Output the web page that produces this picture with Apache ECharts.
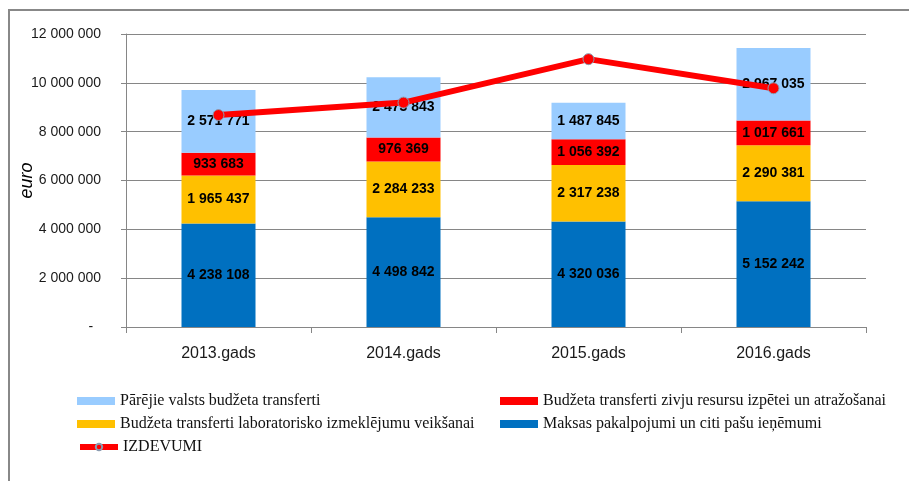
<!DOCTYPE html>
<html>
<head>
<meta charset="utf-8">
<script src="https://cdn.jsdelivr.net/npm/echarts@6/dist/echarts.min.js"></script>
<style>
html,body{margin:0;padding:0;background:#fff;}
#main{width:909px;height:481px;}
</style>
</head>
<body>
<div id="main"></div>
<script>
const categories = ['2013.gads', '2014.gads', '2015.gads', '2016.gads'];
const seriesNames = [
  'Maksas pakalpojumi un citi pašu ieņēmumi',
  'Budžeta transferti laboratorisko izmeklējumu veikšanai',
  'Budžeta transferti zivju resursu izpētei un atražošanai',
  'Pārējie valsts budžeta transferti',
  'IZDEVUMI'
];
const maksas = [4238108, 4498842, 4320036, 5152242];
const laboratorija = [1965437, 2284233, 2317238, 2290381];
const zivju = [933683, 976369, 1056392, 1017661];
const parejie = [2571771, 2473843, 1487845, 2967035];
const izdevumi = [8680000, 9190000, 10970000, 9780000];
const yTicks = [0, 2000000, 4000000, 6000000, 8000000, 10000000, 12000000];

function fmt(v) {
  return String(Math.round(v)).replace(/\B(?=(\d{3})+(?!\d))/g, ' ');
}

const colors = ['#0070C0', '#FFC000', '#FF0000', '#99CCFF'];
const barData = [maksas, laboratorija, zivju, parejie];

const chart = echarts.init(document.getElementById('main'), null, {renderer: 'canvas'});

const barSeries = barData.map((d, i) => ({
  name: seriesNames[i],
  type: 'bar',
  stack: 'total',
  barWidth: 74,
  data: d,
  itemStyle: {color: colors[i]},
  label: {
    show: true,
    position: 'inside',
    formatter: p => fmt(p.value),
    color: '#000',
    fontWeight: 'bold',
    fontSize: 14,
    fontFamily: 'Liberation Sans'
  },
  z: 2
}));

const legendCommon = {
  itemWidth: 38,
  itemHeight: 8,
  itemGap: 5,
  padding: 0,
  textStyle: {fontFamily: 'Liberation Serif', fontSize: 16, color: '#111'},
  selectedMode: false
};

const option = {
  animation: false,
  backgroundColor: '#fff',
  grid: {left: 126, right: 43, top: 34, bottom: 154},
  legend: [
    Object.assign({left: 77, top: 393, data: [{name: seriesNames[3], icon: 'rect'}]}, legendCommon),
    Object.assign({left: 500, top: 393, data: [{name: seriesNames[2], icon: 'rect'}]}, legendCommon),
    Object.assign({left: 77, top: 416, data: [{name: seriesNames[1], icon: 'rect'}]}, legendCommon),
    Object.assign({left: 500, top: 416, data: [{name: seriesNames[0], icon: 'rect'}]}, legendCommon),
    Object.assign({left: 77, top: 439, itemHeight: 12, data: [{name: seriesNames[4], lineStyle: {width: 6, color: '#FF0000'}}]}, legendCommon)
  ],
  xAxis: {
    type: 'category',
    data: categories,
    boundaryGap: true,
    axisLine: {lineStyle: {color: '#868686', width: 1}},
    axisTick: {show: true, length: 6, lineStyle: {color: '#868686'}},
    axisLabel: {
      color: '#1a1a1a',
      fontSize: 16,
      fontFamily: 'Liberation Sans',
      margin: 19
    }
  },
  yAxis: {
    type: 'value',
    min: yTicks[0],
    max: yTicks[yTicks.length - 1],
    interval: 2000000,
    name: 'euro',
    nameLocation: 'middle',
    nameRotate: 90,
    nameGap: 90,
    nameMoveOverlap: false,
    nameTextStyle: {fontStyle: 'italic', fontSize: 18, color: '#000', fontFamily: 'Liberation Sans'},
    axisLine: {show: true, lineStyle: {color: '#868686', width: 1}},
    axisTick: {show: true, length: 5, lineStyle: {color: '#868686'}},
    splitLine: {show: true, lineStyle: {color: '#868686', width: 1}},
    axisLabel: {
      color: '#1a1a1a',
      fontSize: 14,
      fontFamily: 'Liberation Sans',
      margin: 25,
      formatter: v => v === 0 ? '-  ' : fmt(v)
    }
  },
  series: barSeries.concat([{
    name: seriesNames[4],
    type: 'line',
    data: izdevumi,
    symbol: 'circle',
    symbolSize: 11,
    lineStyle: {color: '#FF0000', width: 6},
    itemStyle: {color: '#FF0000', borderColor: '#8a9bb0', borderWidth: 1},
    z: 5
  }]),
  graphic: [{
    type: 'rect',
    shape: {x: 9, y: 10, width: 1000, height: 600},
    style: {fill: 'none', stroke: '#888888', lineWidth: 2},
    silent: true,
    z: 100
  }]
};

chart.setOption(option);
</script>
</body>
</html>
